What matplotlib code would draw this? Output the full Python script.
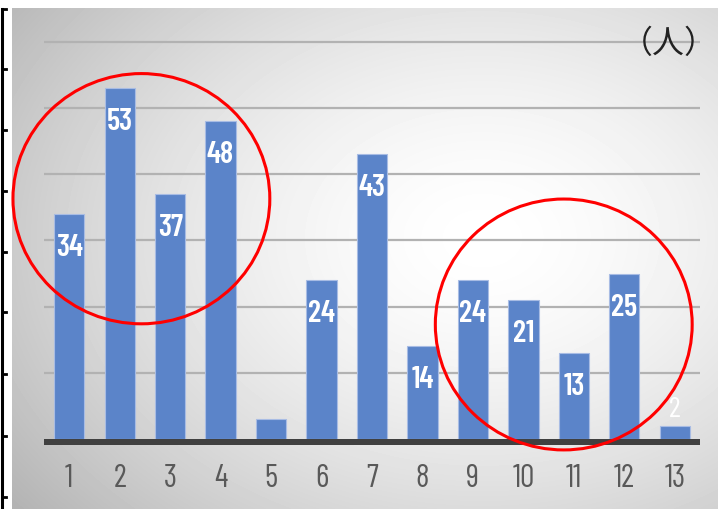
import numpy as np
import matplotlib
matplotlib.use("Agg")
import matplotlib.pyplot as plt
from matplotlib.patches import Ellipse

# data
groups = ["1", "2", "3", "4", "5", "6", "7", "8", "9", "10", "11", "12", "13"]
counts = [34, 53, 37, 48, 3, 24, 43, 14, 24, 21, 13, 25, 2]
shown = [True] * 12 + [True]
shown[4] = False          # bar 5 carries no label in the picture
unit_label = "（人）"

narrow = ["Barlow Condensed", "DejaVu Sans"]

fig = plt.figure(figsize=(7.18, 5.10), dpi=100)
fig.patch.set_facecolor("white")

# grey panel with a soft radial highlight
bg = fig.add_axes([12 / 718, 0, 706 / 718, 501 / 510], zorder=0)
h, w = 501, 706
yy, xx = np.mgrid[0:h, 0:w]
r = np.sqrt(((xx - 470) / 520.0) ** 2 + ((yy - 230) / 380.0) ** 2)
shade = 1 - 0.24 * np.clip(r, 0, 1.4) ** 1.6
bg.imshow(shade, cmap="gray", vmin=0, vmax=1, aspect="auto", interpolation="bilinear")
bg.axis("off")

# left black ruler with ticks
rl = fig.add_axes([0, 0, 1, 1], zorder=1)
rl.set_xlim(0, 718)
rl.set_ylim(510, 0)
rl.axis("off")
rl.plot([2, 2], [10, 510], color="black", lw=2.2)
for ty in [10, 70, 131, 192, 253, 313, 375, 437, 498]:
    rl.plot([2, 6], [ty, ty], color="black", lw=2.0)

ax = fig.add_axes([44 / 718, 0.1113, 656 / 718, 0.8437], zorder=2)
ax.patch.set_alpha(0)
x = np.arange(1, len(counts) + 1)
ax.set_xlim(0.5, 13.5)
ax.set_ylim(-2, 63)

for gy in [10, 20, 30, 40, 50, 60]:
    ax.axhline(gy, color="#b2b2b2", lw=1.6, zorder=1)

ax.bar(x, counts, width=0.6, color="#5b84c9", edgecolor="#a8bce4", linewidth=0.8, zorder=3)
ax.axhspan(-0.95, 0, color="#404040", zorder=4, lw=0)

for xi, v, s in zip(x, counts, shown):
    if not s:
        continue
    if v >= 10:
        ax.text(xi, v - 5, str(v), ha="center", va="center", color="white",
                fontsize=22, fontweight="semibold", family=narrow, zorder=5)
    else:
        ax.text(xi, v + 2.6, str(v), ha="center", va="center", color="white",
                fontsize=21, family=narrow, zorder=5)

ax.set_xticks(x)
ax.set_xticklabels(groups, family=narrow, fontsize=23, color="#595959")
ax.tick_params(axis="x", length=0, pad=8)
ax.set_yticks([])
for sp in ax.spines.values():
    sp.set_visible(False)

# red circles
ax.add_patch(Ellipse((2.43, 36.3), 5.09, 37.8, fill=False, edgecolor="red", lw=2.2,
                     clip_on=False, zorder=6))
ax.add_patch(Ellipse((10.80, 17.3), 5.09, 37.9, fill=False, edgecolor="red", lw=2.2,
                     clip_on=False, zorder=6))

fig.text(669 / 718, 1 - 44 / 510, unit_label, ha="center", va="center", fontsize=23,
         color="#222222", family=["Noto Sans CJK JP", "DejaVu Sans"], zorder=7)

fig.savefig("out.png", dpi=100)
